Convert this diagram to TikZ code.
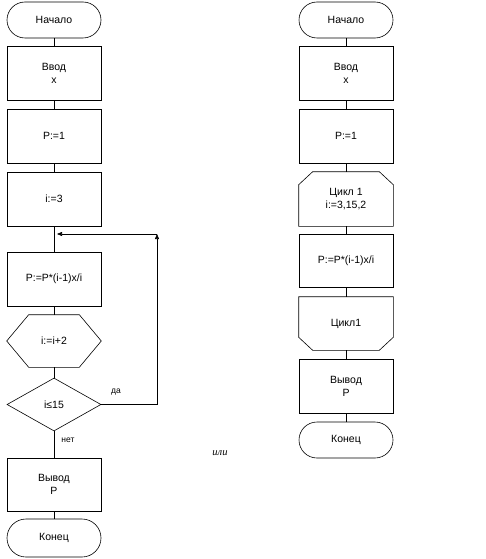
\documentclass[tikz,border=0pt]{standalone}
\usepackage{fontspec}
\setmainfont{Liberation Sans}
\newfontfamily\serifit{Liberation Serif}
\usetikzlibrary{shapes.geometric,arrows.meta}

\tikzset{
    blk/.style={draw, minimum width=94pt, minimum height=54pt, inner sep=0pt, align=center},
    term/.style={draw, rounded corners=18pt, minimum width=94pt, minimum height=36pt, inner sep=0pt},
    ghost/.style={minimum width=94pt, minimum height=53pt, inner sep=0pt, align=center},
    cond/.style={draw, diamond, minimum width=94pt, minimum height=53pt, inner sep=0pt},
    lbl/.style={font=\fontsize{8.5}{10}\selectfont},
    arr/.style={-{Triangle[length=5pt,width=4pt]}}
}

\begin{document}
\begin{tikzpicture}[x=1pt, y=-1pt, line width=0.6pt, font=\fontsize{10.5}{13}\selectfont]
    \useasboundingbox (0,0) rectangle (485,559);

    % Schema con ciclo a condizione
    \begin{scope}
        \node[term] (start1) at (54,20) {Начало};
        \node[blk] (in1) at (54,73) {Ввод\\x};
        \node[blk] (p1) at (54,136) {P:=1};
        \node[blk] (i3) at (54,199) {i:=3};
        \node[blk] (mul1) at (54,279) {P:=P*(i-1)x/i};
        \node[ghost, minimum height=52pt] (inc) at (54,341) {i:=i+2};
        \node[cond] (chk) at (54,404.5) {i≤15};
        \node[blk, minimum height=53pt] (out1) at (54,484.5) {Вывод\\P};
        \node[term, minimum height=38pt, rounded corners=19pt] (end1) at (54,538) {Конец};

        % esagono
        \draw ([xshift=22pt]inc.north west) -- ([xshift=-22pt]inc.north east) -- (inc.east)
            -- ([xshift=-22pt]inc.south east) -- ([xshift=22pt]inc.south west) -- (inc.west) -- cycle;

        \coordinate (join) at (54,234);
        \coordinate (back) at (157,234);

        \draw (start1) -- (in1);
        \draw (in1) -- (p1);
        \draw (p1) -- (i3);
        \draw (i3) -- (mul1);
        \draw (mul1) -- (inc);
        \draw (inc) -- (chk);
        \draw (chk) -- (out1);
        \draw (out1) -- (end1);

        % ritorno
        \draw[arr] (chk.east) -| (back);
        \draw[arr, shorten >=3pt] (back) -- (join);

        \node[lbl] (yes) at (116,392) {да};
        \node[lbl] (no) at (68,440) {нет};
    \end{scope}

    \node (or) at (220,453) {\serifit\itshape или};

    % Schema con blocco ciclo
    \begin{scope}
        \node[term] (start2) at (346,20) {Начало};
        \node[blk] (in2) at (346,73) {Ввод\\x};
        \node[blk] (p2) at (346,136) {P:=1};
        \node[ghost, minimum height=54pt] (loop) at (346,199) {Цикл 1\\i:=3,15,2};
        \node[blk, minimum height=53pt] (mul2) at (346,260.5) {P:=P*(i-1)x/i};
        \node[ghost] (loopend) at (346,323.5) {Цикл1};
        \node[blk] (out2) at (346,386) {Вывод\\P};
        \node[term] (end2) at (346,440) {Конец};

        % inizio e fine ciclo
        \draw (loop.south west) -- ([yshift=-13pt]loop.north west) -- ([xshift=14pt]loop.north west)
            -- ([xshift=-14pt]loop.north east) -- ([yshift=-13pt]loop.north east) -- (loop.south east) -- cycle;
        \draw (loopend.north west) -- ([yshift=13pt]loopend.south west) -- ([xshift=14pt]loopend.south west)
            -- ([xshift=-14pt]loopend.south east) -- ([yshift=13pt]loopend.south east) -- (loopend.north east) -- cycle;

        \draw (start2) -- (in2);
        \draw (in2) -- (p2);
        \draw (p2) -- (loop);
        \draw (loop) -- (mul2);
        \draw (mul2) -- (loopend);
        \draw (loopend) -- (out2);
        \draw (out2) -- (end2);
    \end{scope}
\end{tikzpicture}
\end{document}
